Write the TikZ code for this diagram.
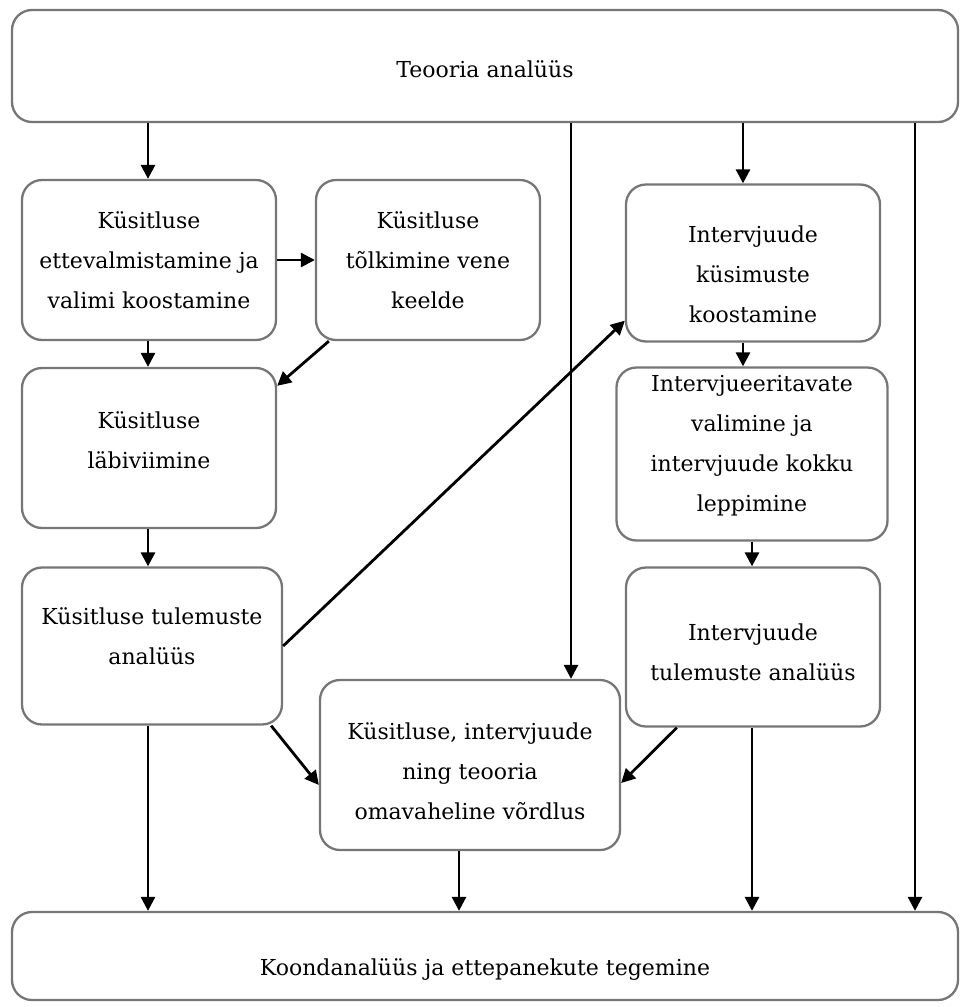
\documentclass[tikz,border=0pt]{standalone}
\usepackage{fontspec}
\setmainfont{DejaVu Serif}
\usetikzlibrary{arrows.meta}

\begin{document}
\begin{tikzpicture}[x=1pt,y=-1pt]
  \definecolor{boxgray}{RGB}{118,118,118}

  \tikzset{
    stepbox/.style={rectangle,rounded corners=20pt,draw=boxgray,fill=white,line width=2.3pt,
      align=center,inner sep=0pt,font=\fontsize{22}{40}\selectfont},
    flowarrow/.style={-{Triangle[length=14pt,width=14pt]},line width=2.8pt,black}
  }

  \useasboundingbox (0,0) rectangle (960,1007);

  % ---------------- top and bottom bars ----------------
  \node[stepbox,minimum width=946pt,minimum height=112pt] (teooria) at (485,66)
    {\rule{0pt}{24pt}Teooria analüüs};
  \node[stepbox,minimum width=946pt,minimum height=88pt] (koond) at (485,956)
    {\rule{0pt}{44pt}Koondanalüüs ja ettepanekute tegemine};

  % ---------------- survey branch ----------------
  \node[stepbox,minimum width=254pt,minimum height=160pt] (kysEtt) at (149,260)
    {Küsitluse\\ ettevalmistamine ja\\ valimi koostamine};
  \node[stepbox,minimum width=224pt,minimum height=160pt] (kysTolk) at (428,260)
    {Küsitluse\\ tõlkimine vene\\ keelde};
  \node[stepbox,minimum width=254pt,minimum height=160pt] (kysLabi) at (149,448)
    {Küsitluse\\ läbiviimine\rule[-15pt]{0pt}{15pt}};
  \node[stepbox,minimum width=260pt,minimum height=157pt] (kysTul) at (152,646)
    {Küsitluse tulemuste\\ analüüs\rule[-19pt]{0pt}{19pt}};

  % ---------------- interview branch ----------------
  \node[stepbox,minimum width=254pt,minimum height=157pt] (intKys) at (753,263)
    {\rule{0pt}{40pt}Intervjuude\\ küsimuste\\ koostamine};
  \node[stepbox,minimum width=271pt,minimum height=173pt] (intVal) at (752,454)
    {Intervjueeritavate\\ valimine ja\\ intervjuude kokku\\ leppimine\rule[-21pt]{0pt}{21pt}};
  \node[stepbox,minimum width=254pt,minimum height=159pt] (intTul) at (753,647)
    {\rule{0pt}{28pt}Intervjuude\\ tulemuste analüüs};

  % ---------------- comparison ----------------
  \node[stepbox,minimum width=300pt,minimum height=170pt] (vordlus) at (470,765)
    {\rule{0pt}{30pt}Küsitluse, intervjuude\\ ning teooria\\ omavaheline võrdlus};

  % arrow columns
  \coordinate (colL) at (148,0);
  \coordinate (colM) at (571,0);
  \coordinate (colE) at (743,0);
  \coordinate (colG) at (752,0);
  \coordinate (colH) at (459,0);
  \coordinate (colX) at (915,0);

  % survey flow
  \draw[flowarrow] (teooria.south -| colL) -- (kysEtt.north -| colL);
  \draw[flowarrow] (kysEtt.east) -- (kysTolk.west);
  \draw[flowarrow] (kysEtt.south -| colL) -- (kysLabi.north -| colL);
  \draw[flowarrow] ([xshift=14pt]kysTolk.south west) -- ([yshift=-19pt]kysLabi.north east);
  \draw[flowarrow] (kysLabi.south -| colL) -- (kysTul.north -| colL);
  \draw[flowarrow] (kysTul.east) -- ([yshift=22pt]intKys.south west);
  \draw[flowarrow] ([xshift=-12pt]kysTul.south east) -- ([yshift=-20pt]vordlus.west);
  \draw[flowarrow] (kysTul.south -| colL) -- (koond.north -| colL);

  % interview flow
  \draw[flowarrow] (teooria.south -| colE) -- (intKys.north -| colE);
  \draw[flowarrow] (intKys.south -| colE) -- (intVal.north -| colE);
  \draw[flowarrow] (intVal.south -| colG) -- (intTul.north -| colG);
  \draw[flowarrow] ([xshift=52pt]intTul.south west) -- ([yshift=-18pt]vordlus.east);
  \draw[flowarrow] (intTul.south -| colG) -- (koond.north -| colG);

  % theory lines
  \draw[flowarrow] (teooria.south -| colM) -- (vordlus.north -| colM);
  \draw[flowarrow] (teooria.south -| colX) -- (koond.north -| colX);
  \draw[flowarrow] (vordlus.south -| colH) -- (koond.north -| colH);
\end{tikzpicture}
\end{document}
